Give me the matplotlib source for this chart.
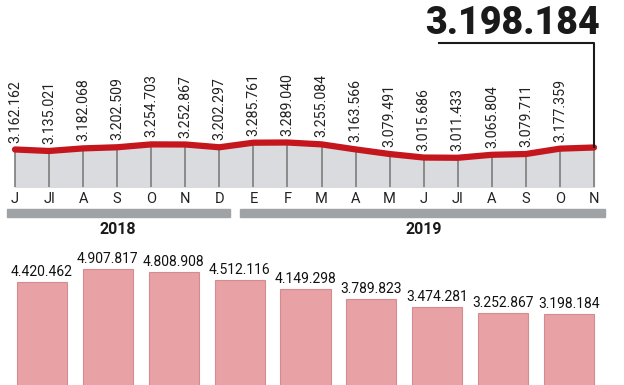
import numpy as np
import matplotlib.pyplot as plt

months = ['J', 'Jl', 'A', 'S', 'O', 'N', 'D', 'E', 'F', 'M', 'A', 'M',
          'J', 'Jl', 'A', 'S', 'O', 'N']
monthly = [3162162, 3135021, 3182068, 3202509, 3254703, 3252867, 3202297,
           3285761, 3289040, 3255084, 3163566, 3079491, 3015686, 3011433,
           3065804, 3079711, 3177359, 3198184]
years = ['2018', '2019']
bar_values = [4420462, 4907817, 4808908, 4512116, 4149298, 3789823,
              3474281, 3252867, 3198184]


def fmt(v):
    return f'{v:,}'.replace(',', '.')


plt.rcParams['font.family'] = ['Roboto', 'DejaVu Sans']

W, H = 624, 385
fig = plt.figure(figsize=(W / 100, H / 100), dpi=100)

# ---- top: monthly line/area ----
ax = fig.add_axes([0, 1 - 187 / H, 1, 187 / H])
X = np.arange(len(monthly))
ax.set_xlim(-15 / 34.06, (W - 15) / 34.06)
ax.set_ylim(2.48e6, 2.48e6 + 187 / 55 * 1e6)
ax.fill_between(X, 2.48e6, monthly, color='#d9dbde', zorder=1)
ax.vlines(X, 2.48e6, monthly, color='#7d7d7d', lw=1.2, zorder=2)
ax.plot(X, monthly, color='#c4161c', lw=4.5, solid_capstyle='round', zorder=3)
for x, v in zip(X[:-1], monthly[:-1]):
    ax.annotate(fmt(v), (x, v), xytext=(0, 5), textcoords='offset points',
                rotation=90, ha='center', va='bottom', fontsize=10.2,
                color='#222222')
ax.axis('off')

# highlight latest value
fig.text(600 / W, 1 - 24 / H, fmt(monthly[-1]), ha='right', va='center',
         fontsize=27, fontweight='black', color='#1a1a1a')
ax.plot([X[-1] - 155 / 34.06, X[-1], X[-1]],
        [2.48e6 + (187 - 43) / 55 * 1e6] * 2 + [monthly[-1]],
        color='#1a1a1a', lw=1.5, zorder=4, clip_on=False)

# month labels and year bands
for x, m in zip(X, months):
    fig.text((15 + x * 34.06) / W, 1 - 199 / H, m, ha='center', va='center',
             fontsize=10.5, color='#222222')
fig.patches.append(plt.Rectangle((7 / W, 1 - 217 / H), 223 / W, 8 / H,
                                 transform=fig.transFigure, color='#a0a3a6'))
fig.patches.append(plt.Rectangle((240 / W, 1 - 217 / H), 365 / W, 8 / H,
                                 transform=fig.transFigure, color='#a0a3a6'))
fig.text(118 / W, 1 - 229 / H, years[0], ha='center', va='center',
         fontsize=11.5, fontweight='bold', color='#1a1a1a')
fig.text(424 / W, 1 - 229 / H, years[1], ha='center', va='center',
         fontsize=11.5, fontweight='bold', color='#1a1a1a')

# ---- bottom: bars ----
bx = fig.add_axes([0, 0, 1, 135 / H])
B = np.arange(len(bar_values))
bx.set_xlim(-42 / 65.875, (W - 42) / 65.875)
bx.set_ylim(0.49e6, 0.49e6 + 135 / 26.2 * 1e6)
bx.bar(B, bar_values, width=0.76, color='#e8a1a5', edgecolor='#d48c91',
       lw=0.8)
for b, v in zip(B, bar_values):
    bx.annotate(fmt(v), (b, v), xytext=(0, 2), textcoords='offset points',
                ha='center', va='bottom', fontsize=10, color='#111111')
bx.axis('off')

plt.savefig('out.png', dpi=100)
